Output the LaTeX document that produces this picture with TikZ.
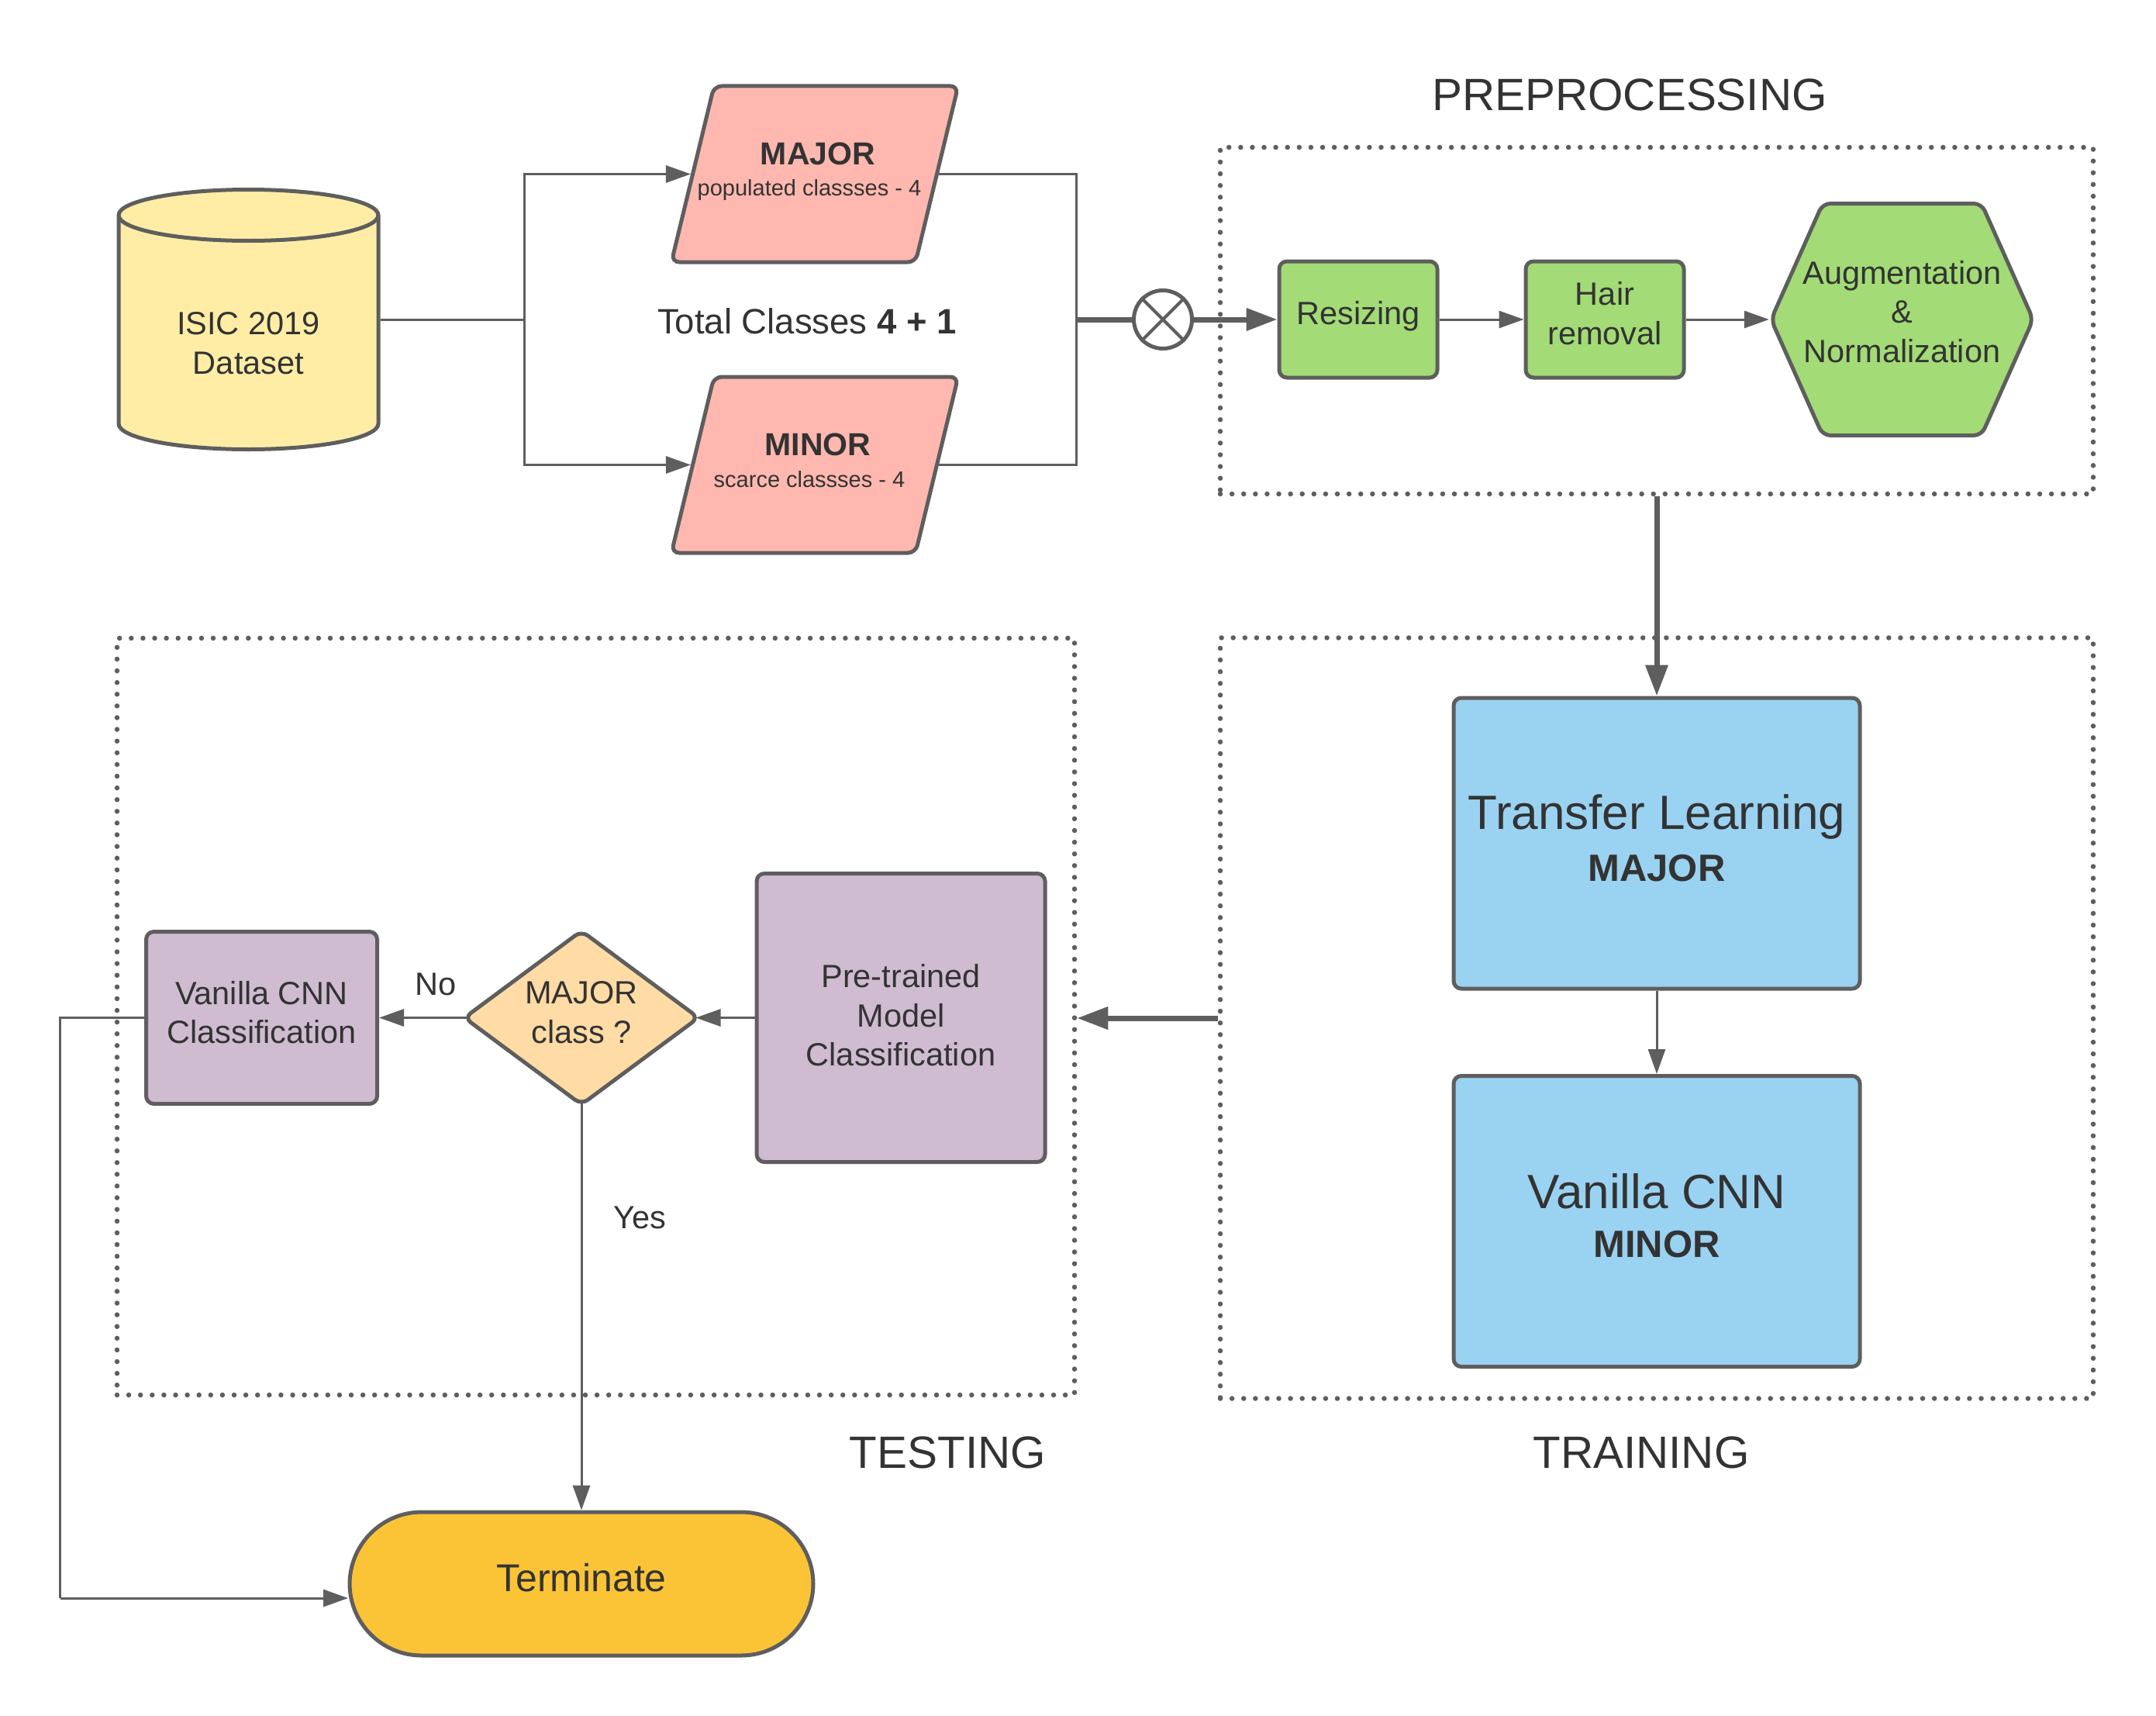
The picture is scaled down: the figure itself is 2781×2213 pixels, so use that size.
\documentclass[tikz,border=0pt]{standalone}
\usepackage{fontspec}
\setmainfont{Liberation Sans}
\usetikzlibrary{arrows.meta,shapes.geometric,shapes.symbols}
\definecolor{ln}{HTML}{5E5E5E}
\definecolor{tx}{HTML}{333333}
\definecolor{cyel}{HTML}{FFEDA6}
\definecolor{cpink}{HTML}{FFB8AF}
\definecolor{cgreen}{HTML}{A3DB76}
\definecolor{cblue}{HTML}{9AD2F2}
\definecolor{cpurp}{HTML}{CFBCD0}
\definecolor{ctan}{HTML}{FFDBA6}
\definecolor{corange}{HTML}{FBC437}
\newcommand{\fsz}[1]{\fontsize{#1}{#1}\selectfont}
\newcommand{\parastrut}{\phantom{\rule{260pt}{227pt}}}
\tikzset{
  x=1pt,y=-1pt,
  shapebox/.style={draw=ln,line width=5pt,rounded corners=10pt,inner sep=0pt},
  para/.style={shapebox,fill=cpink,trapezium,trapezium left angle=76.4,trapezium right angle=103.6},
  dotbox/.style={draw=ln,line width=6.5pt,dash pattern=on 0pt off 15.1pt,line cap=round,inner sep=0pt,rectangle},
  thin/.style={draw=ln,line width=3pt},
  arr/.style={thin,-{Triangle[length=32pt,width=22pt]}},
  thick/.style={draw=ln,line width=7pt},
  bigarr/.style={thick,-{Triangle[length=40pt,width=28pt]}},
  body/.style={text=tx,align=center,font=\fsz{41.5}},
}
\begin{document}
\begin{tikzpicture}
\useasboundingbox (0,0) rectangle (2781,2213);
% dotted frames
\node[dotbox,minimum width=1126pt,minimum height=447pt] (pre) at (2137,413.5) {};
\node[dotbox,minimum width=1126pt,minimum height=981pt] (train) at (2137,1313) {};
\node[dotbox,minimum width=1235pt,minimum height=976pt] (test) at (768.5,1311) {};
% source
\filldraw[draw=ln,fill=cyel,line width=5pt,line join=round]
  (153,277.5) -- (153,546.5) arc[start angle=180,end angle=0,x radius=167.5,y radius=33]
  -- (488,277.5) arc[start angle=360,end angle=180,x radius=167.5,y radius=33] -- cycle;
\draw[ln,line width=5pt] (153,277.5) arc[start angle=180,end angle=0,x radius=167.5,y radius=33];
\node[rectangle,inner sep=0pt,minimum width=340pt,minimum height=340pt,
  label={[body,yshift=-31pt]center:ISIC 2019\\[9.5pt]Dataset}] (cyl) at (320.5,412) {};
\node[para,label={[text=tx,font=\bfseries\fsz{41},xshift=4pt,yshift=26pt]center:MAJOR},label={[text=tx,font=\fsz{29},xshift=-7pt,yshift=-21pt]center:populated classses - 4}] (major) at (1051,224.5) {\parastrut};
\node[para,label={[text=tx,font=\bfseries\fsz{41},xshift=4pt,yshift=26pt]center:MINOR},label={[text=tx,font=\fsz{29},xshift=-7pt,yshift=-19pt]center:scarce classses - 4}] (minor) at (1051,599.5) {\parastrut};
\node[text=tx,font=\fsz{45.5}] (total) at (1041,414) {Total Classes \textbf{4 + 1}};
\coordinate (j1) at (676,412);
\coordinate (j2) at (1388,412);
\node[circle,draw=ln,line width=5pt,fill=white,minimum size=75pt,inner sep=0pt] (xor) at (1500,412) {};
\draw[ln,line width=4pt] (xor.45) -- (xor.225) (xor.135) -- (xor.315);
% preprocessing
\node[shapebox,fill=cgreen,minimum width=204pt,minimum height=150pt,label={[body,yshift=4pt]center:Resizing}] (resize) at (1752,412) {};
\node[shapebox,fill=cgreen,minimum width=204pt,minimum height=150pt,label={[body,yshift=8pt]center:Hair\\[9pt]removal}] (hair) at (2070,412) {};
\node[shapebox,fill=cgreen,signal,signal to=east and west,signal pointer angle=132,minimum width=338pt,minimum height=299pt,label={[body,yshift=10pt]center:Augmentation\\[9pt]\&\\[9pt]Normalization}] (hex) at (2453.5,412) {};
% training
\node[shapebox,fill=cblue,minimum width=524pt,minimum height=375pt,label={[text=tx,font=\fsz{62},yshift=34pt]center:Transfer Learning},label={[text=tx,font=\bfseries\fsz{49},yshift=-32pt]center:MAJOR}] (tl) at (2137,1087.5) {};
\node[shapebox,fill=cblue,minimum width=524pt,minimum height=375pt,label={[text=tx,font=\fsz{62},yshift=39pt]center:Vanilla CNN},label={[text=tx,font=\bfseries\fsz{49},yshift=-30pt]center:MINOR}] (vc) at (2137,1575) {};
% testing
\node[shapebox,fill=cpurp,minimum width=372pt,minimum height=372pt,label={[body,yshift=3pt]center:Pre-trained\\[9pt]Model\\[9pt]Classification}] (pm) at (1162,1312.5) {};
\node[shapebox,fill=ctan,diamond,aspect=1.33,minimum width=304pt,minimum height=226pt,label={[body,yshift=7pt]center:MAJOR\\[9pt]class ?}] (dec) at (750,1312.5) {};
\node[shapebox,fill=cpurp,minimum width=298pt,minimum height=222pt,label={[body,yshift=7pt]center:Vanilla CNN\\[9pt]Classification}] (vcl) at (337.5,1312.5) {};
\node[shapebox,fill=corange,rounded corners=93pt,minimum width=598pt,minimum height=185pt,label={[text=tx,font=\fsz{50},yshift=8pt]center:Terminate}] (term) at (750,2042.5) {};
% captions
\node[text=tx,font=\fsz{58.4}] (cpre) at (2102,122) {PREPROCESSING};
\node[text=tx,font=\fsz{58.4}] (ctest) at (1222.5,1873) {TESTING};
\node[text=tx,font=\fsz{58.4}] (ctrain) at (2117,1873) {TRAINING};
\node[body] (lno) at (562,1269) {No};
\node[body] (lyes) at (825,1570) {Yes};
% connectors
\coordinate (l1) at (77.5,1312.5);
\coordinate (l2) at (77.5,2061);
\coordinate (tin) at (449,2061);
\draw[thin] (cyl.east) -- (j1);
\draw[arr] (j1) |- (major.left side);
\draw[arr] (j1) |- (minor.left side);
\draw[thin] (major.right side) -| (j2);
\draw[thin] (minor.right side) -| (j2);
\draw[thick] (j2) -- (xor.west);
\draw[bigarr] (xor.east) -- (resize.west);
\draw[arr] (resize.east) -- (hair.west);
\draw[arr] (hair.east) -- (hex.west);
\draw[bigarr] (pre.south) -- (tl.north);
\draw[arr] (tl.south) -- (vc.north);
\draw[bigarr] (train.west) -- (train.west -| test.east);
\draw[arr,shorten >=-7pt] (pm.west) -- (dec.east);
\draw[arr,shorten <=-7pt] (dec.west) -- (vcl.east);
\draw[arr,shorten <=-5pt] (dec.south) -- (term.north);
\draw[thin] (vcl.west) -- (l1) -- (l2);
\draw[arr] (l2) -- (tin);
\end{tikzpicture}
\end{document}
